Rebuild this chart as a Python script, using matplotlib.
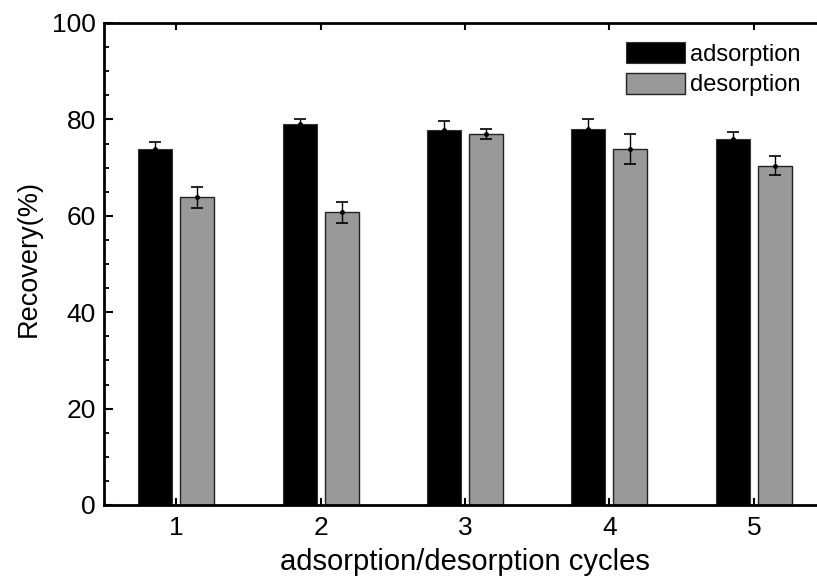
import matplotlib
matplotlib.use("Agg")
import matplotlib.pyplot as plt
import numpy as np
from matplotlib.ticker import MultipleLocator

plt.rcParams["font.family"] = ["Liberation Sans", "DejaVu Sans"]

cycles      = ["1", "2", "3", "4", "5"]
adsorption  = [73.8, 79.0, 77.7, 78.1, 75.9]
ads_err     = [1.6, 1.1, 2.0, 2.0, 1.5]
desorption  = [63.8, 60.7, 77.0, 73.9, 70.4]
des_err     = [2.2, 2.1, 1.0, 3.1, 2.0]

COLOR_ADS = "black"
COLOR_DES = "#999999"

fig = plt.figure(figsize=(8.17, 5.8), dpi=100)
# right edge of the axes sits just outside the canvas, as in the reference
ax = fig.add_axes([104 / 817, 75 / 580, 722 / 817, 482 / 580])

x = np.arange(1, len(cycles) + 1)
off = 0.145
w = 0.235

ax.bar(x - off, adsorption, w, color=COLOR_ADS, edgecolor="#333333",
       linewidth=0.8, label="adsorption", zorder=2)
ax.bar(x + off, desorption, w, color=COLOR_DES, edgecolor="#222222",
       linewidth=1.0, label="desorption", zorder=2)

for xs, vals, errs in [(x - off, adsorption, ads_err), (x + off, desorption, des_err)]:
    ax.errorbar(xs, vals, yerr=errs, fmt="o", color="black", markersize=2.5,
                elinewidth=1.0, capsize=4.3, capthick=1.2, zorder=3)

ax.set_xlim(0.5, 5.5)
ax.set_ylim(0, 100)
ax.set_xticks(x)
ax.set_xticklabels(cycles)
ax.yaxis.set_major_locator(MultipleLocator(20))
ax.yaxis.set_minor_locator(MultipleLocator(5))

for s in ax.spines.values():
    s.set_linewidth(2.0)
ax.spines["right"].set_visible(False)

ax.tick_params(axis="y", which="major", direction="in", length=6.5, width=1.5,
               right=True, labelsize=19, pad=6)
ax.tick_params(axis="y", which="minor", direction="in", length=3.8, width=1.3,
               right=True)
ax.tick_params(axis="x", which="major", direction="in", length=5, width=1.5,
               top=True, labelsize=19, pad=8)

ax.set_ylabel("Recovery(%)", fontsize=19.5)
ax.yaxis.set_label_coords(-0.086, 0.512)
ax.set_xlabel("adsorption/desorption cycles", fontsize=21, labelpad=6)

ax.legend(loc="upper left", bbox_to_anchor=(626 / 817, 1 - 42 / 580),
          bbox_transform=fig.transFigure, frameon=False, fontsize=17,
          handlelength=2.5, handleheight=1.0, handletextpad=0.2,
          labelspacing=0.3, borderpad=0, borderaxespad=0)

fig.savefig("out.png", dpi=100)
